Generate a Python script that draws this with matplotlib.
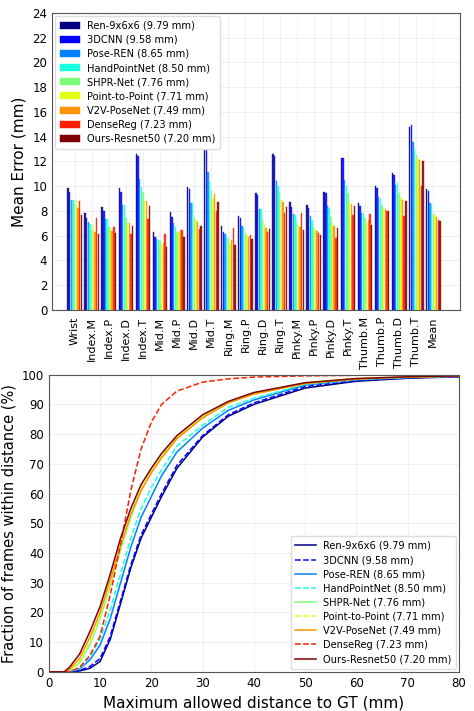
import numpy as np
import matplotlib
matplotlib.use("Agg")
import matplotlib.pyplot as plt

# ---------------- data ----------------
joints = ["Wrist", "Index.M", "Index.P", "Index.D", "Index.T", "Mid.M", "Mid.P", "Mid.D",
          "Mid.T", "Ring.M", "Ring.P", "Ring.D", "Ring.T", "Pinky.M", "Pinky.P", "Pinky.D",
          "Pinky.T", "Thumb.M", "Thumb.P", "Thumb.D", "Thumb.T", "Mean"]
methods = ["Ren-9x6x6 (9.79 mm)", "3DCNN (9.58 mm)", "Pose-REN (8.65 mm)",
           "HandPointNet (8.50 mm)", "SHPR-Net (7.76 mm)", "Point-to-Point (7.71 mm)",
           "V2V-PoseNet (7.49 mm)", "DenseReg (7.23 mm)", "Ours-Resnet50 (7.20 mm)"]

ren     = [9.85, 7.81, 8.30, 9.83, 12.58, 6.33, 7.89, 9.91, 13.20, 6.79, 7.62, 9.48, 12.60, 8.75, 8.48, 9.51, 12.26, 8.67, 10.05, 11.04, 14.80, 9.79]
cnn3d   = [9.56, 7.46, 8.03, 9.56, 12.44, 5.87, 7.54, 9.75, 13.20, 6.33, 7.41, 9.29, 12.40, 8.32, 8.20, 9.43, 12.30, 8.42, 9.83, 10.90, 14.90, 9.58]
poseren = [8.89, 7.14, 7.33, 8.48, 10.56, 5.76, 7.00, 8.62, 11.12, 6.10, 6.79, 8.16, 10.45, 7.76, 7.60, 8.40, 10.50, 7.87, 9.16, 10.10, 13.60, 8.65]
hpn     = [8.89, 6.95, 7.33, 8.48, 9.90, 5.66, 6.68, 8.62, 10.30, 5.93, 6.60, 8.16, 10.00, 7.68, 7.27, 8.20, 10.00, 7.87, 9.00, 10.24, 13.00, 8.50]
shpr    = [8.60, 6.46, 6.68, 7.41, 9.50, 5.55, 6.33, 7.54, 9.65, 5.80, 6.20, 7.27, 9.50, 7.20, 6.68, 7.54, 9.43, 7.41, 8.40, 9.48, 12.50, 7.76]
p2p     = [8.89, 6.87, 6.60, 7.06, 8.80, 5.25, 6.33, 7.27, 9.00, 5.40, 6.06, 6.87, 8.89, 6.85, 6.52, 6.87, 8.70, 7.06, 8.13, 9.02, 12.20, 7.71]
v2v     = [8.20, 6.33, 6.41, 7.00, 8.80, 5.40, 6.46, 7.14, 9.40, 5.66, 5.93, 6.65, 8.70, 6.70, 6.41, 6.79, 8.60, 7.30, 8.13, 8.89, 12.10, 7.49]
densereg= [8.80, 7.46, 6.68, 6.14, 7.35, 6.14, 6.50, 6.52, 8.00, 6.60, 6.06, 6.33, 7.87, 7.87, 6.25, 5.79, 7.68, 7.76, 8.00, 7.60, 10.00, 7.23]
ours    = [7.68, 6.14, 6.20, 6.79, 8.38, 5.12, 5.93, 6.79, 8.75, 5.25, 5.71, 6.52, 8.35, 6.46, 6.06, 6.60, 8.43, 6.87, 8.00, 8.83, 12.00, 7.20]

# Cumulative fraction of frames within distance (%)
dist = [0, 2, 3, 4, 6, 8, 10, 12, 14, 16, 18, 20, 22, 25, 30, 35, 40, 50, 60, 70, 80]
cdf_ren      = [0, 0, 0, 0, 0.3, 1.2, 3.5, 11, 23, 35, 45, 52, 59, 68.5, 79, 86, 90, 95.5, 97.8, 98.8, 99.3]
cdf_3dcnn    = [0, 0, 0, 0, 0.5, 1.8, 4.5, 12, 24, 36, 46, 53, 60, 69.5, 79.5, 86.5, 90.5, 96, 98, 99, 99.4]
cdf_poseren  = [0, 0, 0, 0, 1, 4, 9, 18, 30, 42, 52, 59, 66, 74, 82, 88, 91.5, 96.5, 98.3, 99, 99.5]
cdf_hpn      = [0, 0, 0, 0, 1.2, 5, 11, 21, 33, 45, 55, 62, 68, 76, 83, 89, 92, 96.8, 98.4, 99.1, 99.5]
cdf_shpr     = [0, 0, 0, 0.5, 3, 9, 18, 29, 41, 52, 61, 67, 72, 78.5, 85.5, 90.5, 93.5, 97.2, 98.6, 99.2, 99.6]
cdf_p2p      = [0, 0, 0, 0.5, 3.5, 10, 19, 30, 42, 53, 61.5, 67.5, 72.5, 79, 86, 91, 93.8, 97.3, 98.7, 99.3, 99.6]
cdf_v2v      = [0, 0, 0, 0.8, 4.5, 11.5, 20, 31, 42.5, 53, 61, 67, 72, 78.5, 85.5, 90.5, 93.5, 97, 98.5, 99.2, 99.5]
cdf_densereg = [0, 0, 0, 0, 1.5, 5.5, 12, 26, 43, 61, 75, 84, 90, 94.5, 97.5, 98.6, 99.2, 99.6, 99.8, 99.9, 99.9]
cdf_ours     = [0, 0, 0, 1.5, 6, 13.5, 22, 33, 45, 55, 63, 68.5, 73.5, 79.5, 86.5, 91, 94, 97.3, 98.7, 99.3, 99.6]

# ---------------- figure ----------------
plt.rcParams['font.family'] = ['DejaVu Sans']
fig = plt.figure(figsize=(4.74, 7.11), dpi=100)

cmap = plt.get_cmap('jet')
colors = [cmap(i / 8) for i in range(9)]

ax1 = fig.add_axes([0.110, 0.564, 0.860, 0.418])
series = [ren, cnn3d, poseren, hpn, shpr, p2p, v2v, densereg, ours]
n = len(series)
group_w = 0.88
bw = group_w / n
xs = np.arange(len(joints))
for i, (vals, c, lab) in enumerate(zip(series, colors, methods)):
    offs = -group_w / 2 + bw * (i + 0.5)
    ax1.bar(xs + offs, vals, width=bw * 0.82, color=c, alpha=0.85, label=lab,
            edgecolor=c, linewidth=0.3, zorder=3)
ax1.set_xlim(-1.32, 22.55)
ax1.set_ylim(0, 24)
ax1.set_yticks(np.arange(0, 25, 2))
ax1.set_xticks(xs)
ax1.set_xticklabels(joints, rotation=90, fontsize=8)
ax1.tick_params(axis='y', labelsize=8.5, length=0)
ax1.tick_params(axis='x', length=0, pad=5)
ax1.set_ylabel("Mean Error (mm)", fontsize=11)
ax1.grid(True, color='#ececec', linewidth=0.6, zorder=0)
for s in ax1.spines.values():
    s.set_color('#555555')
leg1 = ax1.legend(loc='upper left', fontsize=7.1, handlelength=2.05, handleheight=0.7,
                  borderpad=0.5, labelspacing=0.42, handletextpad=0.7,
                  borderaxespad=0.3, framealpha=1.0, edgecolor='#dddddd')
for h in leg1.legend_handles:
    h.set_alpha(1.0)

ax2 = fig.add_axes([0.103, 0.055, 0.865, 0.418])
styles = ['-', '--', '-', '--', '-', '--', '-', '--', '-']
cdfs = [cdf_ren, cdf_3dcnn, cdf_poseren, cdf_hpn, cdf_shpr, cdf_p2p, cdf_v2v, cdf_densereg, cdf_ours]
for cdf, c, ls, lab in zip(cdfs, colors, styles, methods):
    ax2.plot(dist, cdf, color=c, linestyle=ls, linewidth=1.1, label=lab)
ax2.set_xlim(0, 80)
ax2.set_ylim(0, 100)
ax2.set_xticks(np.arange(0, 81, 10))
ax2.set_yticks(np.arange(0, 101, 10))
ax2.tick_params(labelsize=8.5, length=0)
ax2.set_xlabel("Maximum allowed distance to GT (mm)", fontsize=11)
ax2.set_ylabel("Fraction of frames within distance (%)", fontsize=10.5)
ax2.grid(True, color='#ececec', linewidth=0.6)
for s in ax2.spines.values():
    s.set_color('#555555')
ax2.legend(loc='lower right', fontsize=7.1, handlelength=2.05, borderpad=0.5,
           labelspacing=0.42, handletextpad=0.7, borderaxespad=0.3,
           framealpha=1.0, edgecolor='#dddddd')

fig.savefig("out.png", dpi=100)
